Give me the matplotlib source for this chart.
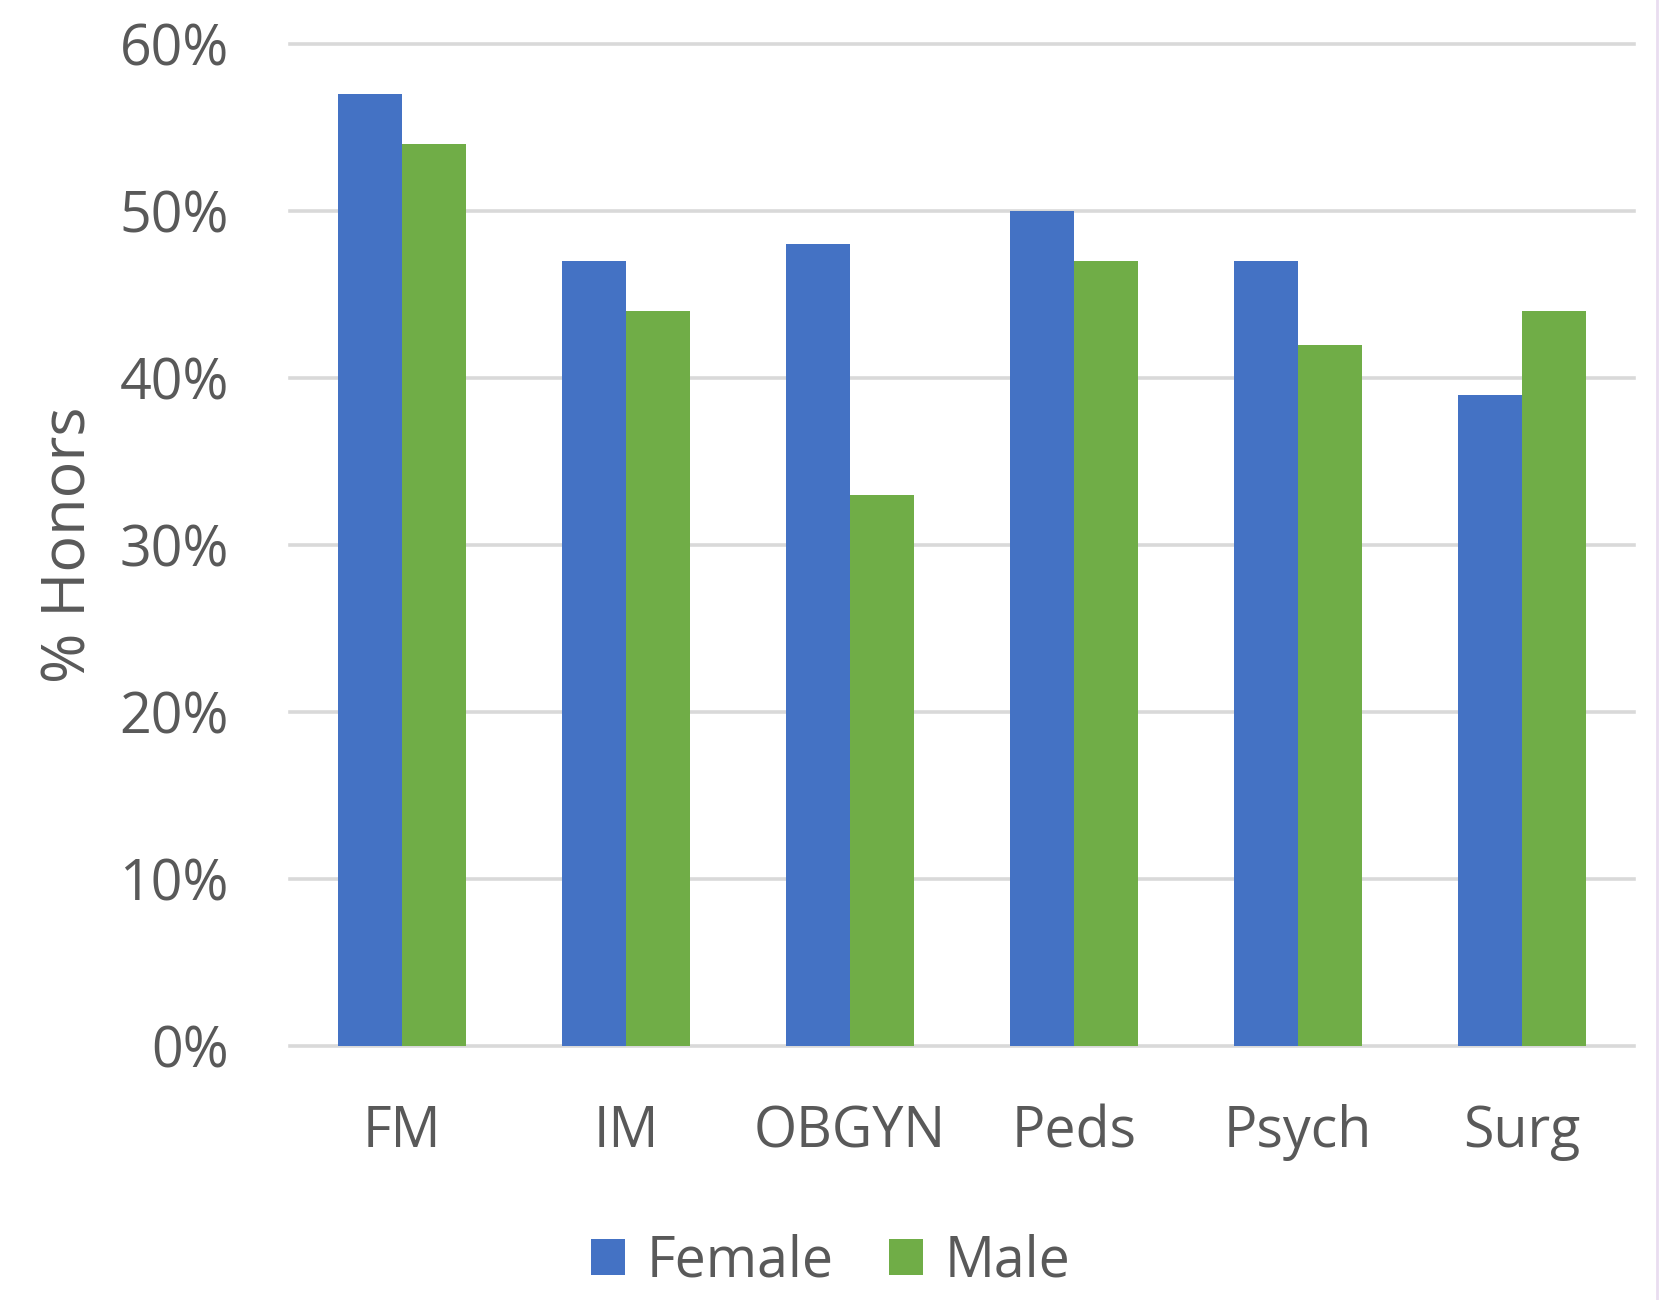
import matplotlib
matplotlib.use("Agg")
import matplotlib.pyplot as plt
import numpy as np
from matplotlib.patches import Patch
from matplotlib.lines import Line2D

categories = ["FM", "IM", "OBGYN", "Peds", "Psych", "Surg"]
female = [57, 47, 48, 50, 47, 39]
male = [54, 44, 33, 47, 42, 44]
y_ticks = [0, 10, 20, 30, 40, 50, 60]
y_tick_labels = ["0%", "10%", "20%", "30%", "40%", "50%", "60%"]
series_names = ["Female", "Male"]

BLUE = "#4472C4"
GREEN = "#70AD47"
GRID = "#D9D9D9"
TEXT = "#595959"

plt.rcParams["font.family"] = ["Open Sans", "DejaVu Sans"]

fig = plt.figure(figsize=(16.6, 13.0), dpi=100)
ax = fig.add_axes([290 / 1660, 1 - 1046 / 1300, (1634 - 290) / 1660, (1046 - 44) / 1300])

x = np.arange(len(categories))
w = 1 / 3.5
ax.bar(x - w / 2, female, width=w, color=BLUE, zorder=3)
ax.bar(x + w / 2, male, width=w, color=GREEN, zorder=3)

ax.set_xlim(-0.5, len(categories) - 0.5)
ax.set_ylim(0, 60)
ax.set_yticks(y_ticks)
ax.set_yticklabels(y_tick_labels)
ax.set_xticks(x)
ax.set_xticklabels(categories)

for v in y_ticks:
    ax.axhline(v, color=GRID, lw=2.6, zorder=1, clip_on=False)

for s in ax.spines.values():
    s.set_visible(False)
ax.tick_params(axis="both", length=0, labelsize=40, labelcolor=TEXT)
ax.tick_params(axis="y", pad=44)
ax.tick_params(axis="x", pad=42)

ax.set_ylabel("% Honors", fontsize=44, color=TEXT)
ax.yaxis.set_label_coords(-190 / 1344, 0.5)

handles = [Patch(facecolor=BLUE, edgecolor="none"), Patch(facecolor=GREEN, edgecolor="none")]
fig.legend(handles, series_names, loc="center", bbox_to_anchor=(831 / 1660, 1 - 1262 / 1300),
           ncol=2, frameon=False, fontsize=40, labelcolor=TEXT, borderpad=0.2,
           handlelength=0.6, handleheight=0.6, handletextpad=0.4, columnspacing=1.0)

fig.add_artist(Line2D([1657 / 1660, 1657 / 1660], [0, 1], color="#E9DDF0", lw=2,
                      transform=fig.transFigure))

fig.savefig("out.png", dpi=100, facecolor="white")
